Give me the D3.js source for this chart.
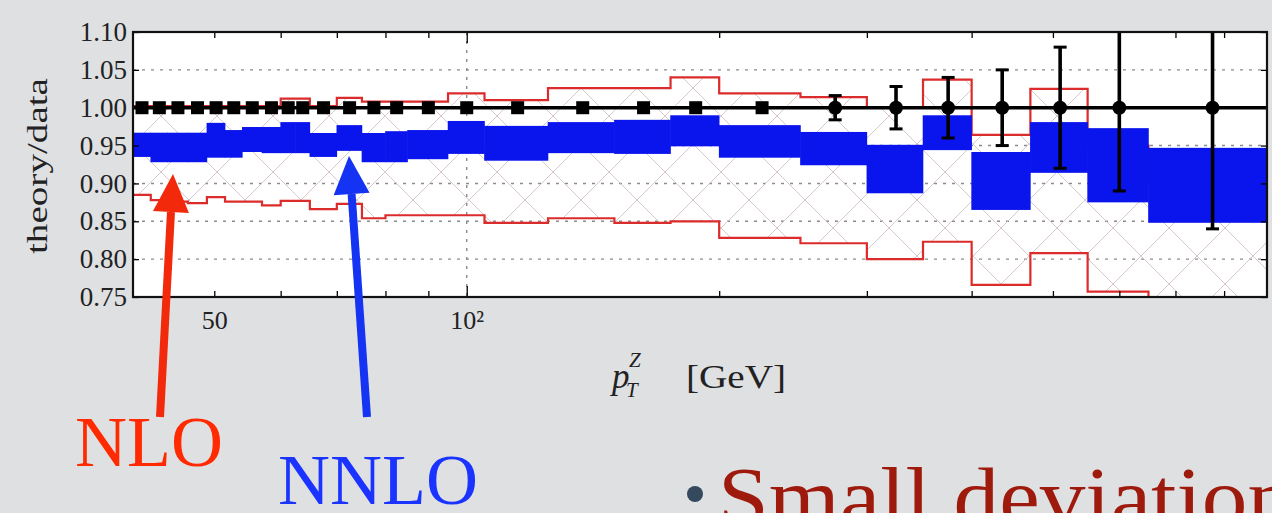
<!DOCTYPE html>
<html>
<head>
<meta charset="utf-8">
<script src="https://cdn.jsdelivr.net/npm/d3@7"></script>
<style>
  html, body { margin: 0; padding: 0; background: #dfe0e2; }
  svg { display: block; }
</style>
</head>
<body>
<svg id="chart" width="1272" height="513"></svg>
<script>
// pT^Z bin edges [GeV]
const binEdges = [40, 42, 44, 46.5, 49, 51.5, 54, 57, 60, 62.5, 65, 70, 75, 80, 85, 95,
                  105, 125, 150, 175, 200, 250, 300, 350, 400, 470, 550, 650, 900];

// NNLO band (theory/data), lower and upper edge per bin
const nnloLow  = [0.935, 0.928, 0.928, 0.928, 0.934, 0.934, 0.9415, 0.940, 0.940, 0.940,
                  0.935, 0.943, 0.928, 0.928, 0.932, 0.939, 0.930, 0.940, 0.939, 0.949,
                  0.934, 0.924, 0.887, 0.944, 0.865, 0.914, 0.875, 0.848];
const nnloHigh = [0.967, 0.967, 0.967, 0.967, 0.980, 0.9705, 0.9745, 0.9745, 0.981, 0.981,
                  0.9666, 0.977, 0.9666, 0.969, 0.9705, 0.9825, 0.976, 0.981, 0.984, 0.990,
                  0.977, 0.968, 0.951, 0.990, 0.9415, 0.981, 0.973, 0.947];

// NLO band (theory/data), lower and upper edge per bin
const nloLow  = [0.885, 0.878, 0.876, 0.874, 0.882, 0.876, 0.876, 0.871, 0.877, 0.877,
                 0.866, 0.873, 0.854, 0.858, 0.858, 0.858, 0.848, 0.854, 0.848, 0.850,
                 0.828, 0.821, 0.800, 0.823, 0.766, 0.808, 0.757, 0.700];
const nloHigh = [1.002, 1.002, 1.002, 1.002, 1.002, 1.002, 1.002, 1.002, 1.012, 1.012,
                 1.002, 1.013, 1.008, 1.008, 1.008, 1.019, 1.010, 1.026, 1.026, 1.040,
                 1.019, 1.014, 1.000, 1.037, 0.964, 1.025, 0.950, 0.900];

// Data normalised to itself, with its relative uncertainty
const dataRatio = [1, 1, 1, 1, 1, 1, 1, 1, 1, 1, 1, 1, 1, 1, 1, 1, 1, 1, 1, 1,
                   1, 1, 1, 1, 1, 1, 1, 1];
const dataErr   = [0.004, 0.004, 0.004, 0.004, 0.004, 0.004, 0.004, 0.004, 0.004, 0.004,
                   0.004, 0.004, 0.004, 0.004, 0.004, 0.004, 0.004, 0.005, 0.005, 0.005,
                   0.006, 0.016, 0.028, 0.040, 0.050, 0.080, 0.110, 0.160];

// Axis ticks
const yTicks = [0.75, 0.80, 0.85, 0.90, 0.95, 1.00, 1.05, 1.10];
const yGrid  = [0.80, 0.85, 0.90, 0.95, 1.00, 1.05];
const xMinorTicks = [50, 60, 70, 80, 90, 200, 300, 400, 500, 600, 700, 800];
const xMajorTicks = [100];
const xTickLabels = { 50: "50", 100: "10\u00B2" };

const svg = d3.select("#chart");
const pLeft = 133, pRight = 1267, pTop = 32, pBottom = 297;

const x = d3.scaleLog().domain([40, 900]).range([pLeft, pRight]);
const y = d3.scaleLinear().domain([0.75, 1.10]).range([pBottom, pTop]);

const bins = d3.range(binEdges.length - 1).map(i => ({
  lo: binEdges[i], hi: binEdges[i + 1],
  mid: (binEdges[i] + binEdges[i + 1]) / 2,
  nnloLow: nnloLow[i], nnloHigh: nnloHigh[i],
  nloLow: nloLow[i], nloHigh: nloHigh[i],
  ratio: dataRatio[i], err: dataErr[i]
}));

const defs = svg.append("defs");
defs.append("clipPath").attr("id", "plotClip")
  .append("rect").attr("x", pLeft).attr("y", pTop)
  .attr("width", pRight - pLeft).attr("height", pBottom - pTop);

// cross-hatch used for the NLO band
const hatch = defs.append("pattern").attr("id", "nloHatch")
  .attr("patternUnits", "userSpaceOnUse")
  .attr("x", pLeft).attr("y", pTop)
  .attr("width", 56).attr("height", 56);
hatch.append("path").attr("d", "M0,0L56,56M0,56L56,0M-2,2L2,-2M54,58L58,54")
  .attr("stroke", "#d3c3c3").attr("stroke-width", 0.9).attr("fill", "none");

// plot background
svg.append("rect").attr("x", pLeft).attr("y", pTop)
  .attr("width", pRight - pLeft).attr("height", pBottom - pTop).attr("fill", "#ffffff");

const plot = svg.append("g").attr("clip-path", "url(#plotClip)");

// dotted grid
plot.append("g").selectAll("line").data(yGrid).join("line")
  .attr("x1", pLeft).attr("x2", pRight)
  .attr("y1", d => y(d)).attr("y2", d => y(d))
  .attr("stroke", "#8c8c8c").attr("stroke-width", 1.4).attr("stroke-dasharray", "3,6");
plot.append("g").selectAll("line").data(xMajorTicks).join("line")
  .attr("x1", d => x(d)).attr("x2", d => x(d))
  .attr("y1", pTop).attr("y2", pBottom)
  .attr("stroke", "#8c8c8c").attr("stroke-width", 1.4).attr("stroke-dasharray", "3,6");

// NLO band: hatched area between the step edges
plot.append("g").selectAll("rect").data(bins).join("rect")
  .attr("x", d => x(d.lo)).attr("width", d => x(d.hi) - x(d.lo))
  .attr("y", d => y(d.nloHigh)).attr("height", d => y(d.nloLow) - y(d.nloHigh))
  .attr("fill", "url(#nloHatch)");

const stepLine = key => {
  const p = [];
  bins.forEach(b => { p.push([x(b.lo), y(b[key])]); p.push([x(b.hi), y(b[key])]); });
  return d3.line()(p);
};
["nloHigh", "nloLow"].forEach(k => {
  plot.append("path").attr("d", stepLine(k))
    .attr("fill", "none").attr("stroke", "#dc2b2b").attr("stroke-width", 2.2);
});

// NNLO band
plot.append("g").selectAll("rect").data(bins).join("rect")
  .attr("x", d => x(d.lo) - 0.3).attr("width", d => x(d.hi) - x(d.lo) + 0.6)
  .attr("y", d => y(d.nnloHigh)).attr("height", d => y(d.nnloLow) - y(d.nnloHigh))
  .attr("fill", "#0a14ec");

// reference line at unity
plot.append("line").attr("x1", pLeft).attr("x2", pRight)
  .attr("y1", y(1)).attr("y2", y(1))
  .attr("stroke", "#000").attr("stroke-width", 3.6);

// data points with uncertainties
const pts = plot.append("g");
pts.selectAll("line.err").data(bins).join("line").attr("class", "err")
  .attr("x1", d => x(d.mid)).attr("x2", d => x(d.mid))
  .attr("y1", d => y(d.ratio + d.err)).attr("y2", d => y(d.ratio - d.err))
  .attr("stroke", "#000").attr("stroke-width", 3.6);
const capped = bins.filter(d => d.err >= 0.01);
[1, -1].forEach(s => {
  pts.append("g").selectAll("line").data(capped).join("line")
    .attr("x1", d => x(d.mid) - 6.5).attr("x2", d => x(d.mid) + 6.5)
    .attr("y1", d => y(d.ratio + s * d.err))
    .attr("y2", d => y(d.ratio + s * d.err))
    .attr("stroke", "#000").attr("stroke-width", 3);
});
pts.selectAll("rect").data(bins.filter(d => d.err < 0.01)).join("rect")
  .attr("x", d => x(d.mid) - 6.5).attr("y", d => y(d.ratio) - 6.5)
  .attr("width", 13).attr("height", 13).attr("fill", "#000");
pts.selectAll("circle").data(capped).join("circle")
  .attr("cx", d => x(d.mid)).attr("cy", d => y(d.ratio)).attr("r", 7)
  .attr("fill", "#000");

// axes (ticks point inward)
const font = "'Liberation Serif', 'Times New Roman', serif";
const styleAxis = g => {
  g.select(".domain").remove();
  g.selectAll(".tick line").attr("stroke", "#000").attr("stroke-width", 1.3);
  g.selectAll("text").attr("font-family", font).attr("fill", "#222");
};
svg.append("g").attr("transform", `translate(${pLeft},0)`)
  .call(d3.axisLeft(y).tickValues(yTicks).tickSize(-6).tickPadding(6)
        .tickFormat(d3.format(".2f")))
  .call(styleAxis)
  .call(g => g.selectAll("text").attr("font-size", 27));
svg.append("g").attr("transform", `translate(${pRight},0)`)
  .call(d3.axisRight(y).tickValues(yTicks).tickSize(-6).tickFormat(""))
  .call(styleAxis);
svg.append("g").attr("transform", `translate(0,${pBottom})`)
  .call(d3.axisBottom(x).tickValues(xMinorTicks.concat(xMajorTicks)).tickSize(-6)
        .tickPadding(14).tickFormat(d => xTickLabels[d] || ""))
  .call(styleAxis)
  .call(g => g.selectAll("text").attr("font-size", 26))
  .call(g => g.selectAll(".tick line").filter(d => xMajorTicks.includes(d)).attr("y2", -11));
svg.append("g").attr("transform", `translate(0,${pTop})`)
  .call(d3.axisTop(x).tickValues(xMinorTicks.concat(xMajorTicks)).tickSize(-6).tickFormat(""))
  .call(styleAxis)
  .call(g => g.selectAll(".tick line").filter(d => xMajorTicks.includes(d)).attr("y2", 11));

// frame
svg.append("rect").attr("x", pLeft).attr("y", pTop)
  .attr("width", pRight - pLeft).attr("height", pBottom - pTop)
  .attr("fill", "none").attr("stroke", "#111").attr("stroke-width", 2.2);

// axis titles
svg.append("text")
  .attr("transform", "translate(47,166) rotate(-90)")
  .attr("text-anchor", "middle")
  .attr("font-family", font).attr("font-size", 30).attr("fill", "#222")
  .attr("textLength", 176).attr("lengthAdjust", "spacingAndGlyphs")
  .text("theory/data");

// p_T^Z [GeV] as one text run with stacked sub/superscript
const xt = svg.append("text").attr("font-family", font).attr("fill", "#222")
  .attr("x", 612).attr("y", 388);
xt.append("tspan").attr("font-size", 35).attr("font-style", "italic").text("p");
xt.append("tspan").attr("x", 626).attr("y", 397).attr("font-size", 21)
  .attr("font-style", "italic").text("T");
xt.append("tspan").attr("x", 629).attr("y", 367).attr("font-size", 21)
  .attr("font-style", "italic").text("Z");
xt.append("tspan").attr("x", 686).attr("y", 388).attr("font-size", 34)
  .attr("textLength", 100).attr("lengthAdjust", "spacingAndGlyphs").text("[GeV]");

// annotation arrows
const arrow = (x0, y0, x1, y1, color, headLen, headHalf) => {
  const ang = Math.atan2(y1 - y0, x1 - x0);
  const bx = x1 - headLen * Math.cos(ang), by = y1 - headLen * Math.sin(ang);
  const nx = -Math.sin(ang), ny = Math.cos(ang);
  svg.append("line").attr("x1", x0).attr("y1", y0).attr("x2", bx).attr("y2", by)
    .attr("stroke", color).attr("stroke-width", 8);
  svg.append("path")
    .attr("d", d3.line()([[x1, y1], [bx + nx * headHalf, by + ny * headHalf],
                          [bx - nx * headHalf, by - ny * headHalf]]) + "Z")
    .attr("fill", color);
};
arrow(160, 417, 173, 174, "#f3290c", 38, 18);
arrow(367, 417, 349, 156, "#1533f2", 38, 18);

svg.append("text").attr("x", 75).attr("y", 466)
  .attr("font-family", font).attr("font-size", 72).attr("fill", "#ff2a00")
  .attr("textLength", 148).attr("lengthAdjust", "spacingAndGlyphs").text("NLO");
svg.append("text").attr("x", 278).attr("y", 504)
  .attr("font-family", font).attr("font-size", 72).attr("fill", "#1a33ff")
  .attr("textLength", 200).attr("lengthAdjust", "spacingAndGlyphs").text("NNLO");

// bullet line
svg.append("circle").attr("cx", 695).attr("cy", 494).attr("r", 8).attr("fill", "#34495e");
svg.append("text").attr("x", 718).attr("y", 526)
  .attr("font-family", font).attr("font-size", 84).attr("fill", "#9e1a0c")
  .attr("textLength", 575).attr("lengthAdjust", "spacingAndGlyphs").text("Small deviation");
</script>
</body>
</html>
